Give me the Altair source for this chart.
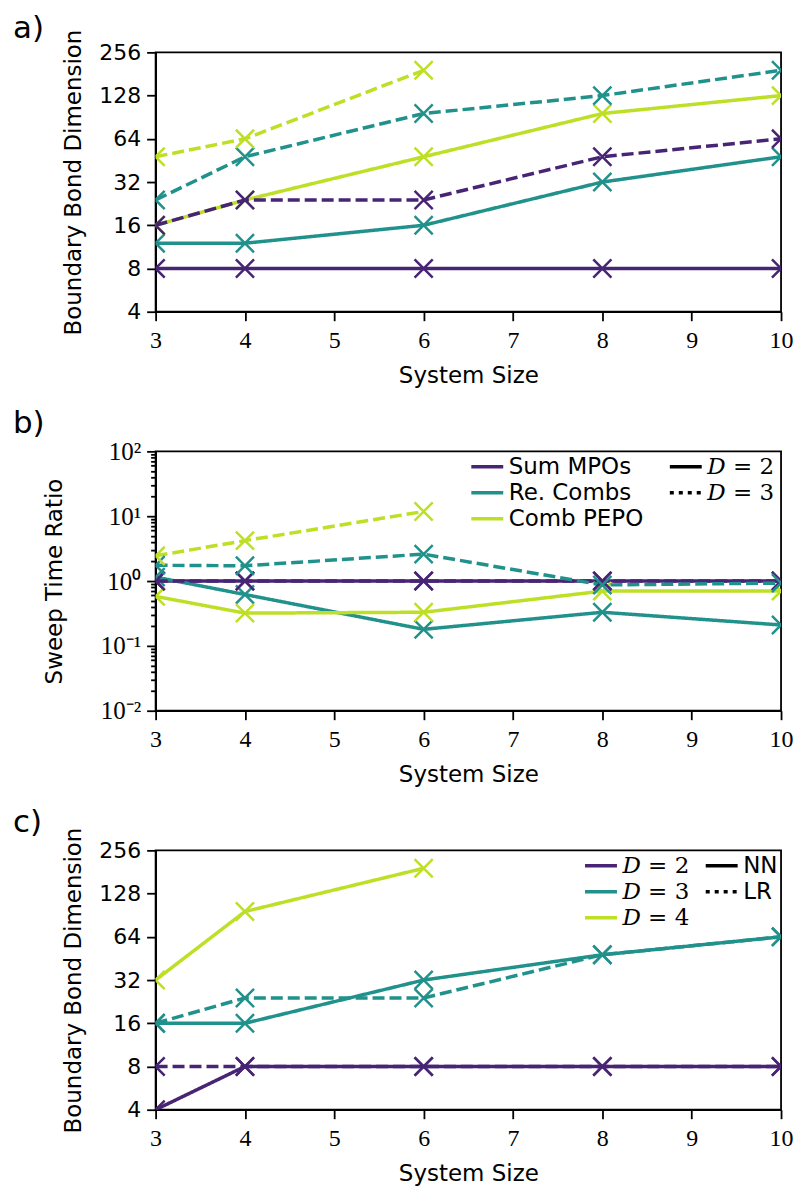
import altair as alt
import pandas as pd

# ---------------- data ----------------
x_full = [3, 4, 6, 8, 10]
x_short = [3, 4, 6]

method_names = ["Sum MPOs", "Re. Combs", "Comb PEPO"]
colors = ["#482475", "#21918c", "#bddf26"]

# panel a: boundary bond dimension vs system size
a_sum_d2 = [8, 8, 8, 8, 8]
a_sum_d3 = [16, 24, 24, 48, 64]
a_re_d2 = [12, 12, 16, 32, 48]
a_re_d3 = [24, 48, 96, 128, 192]
a_comb_d2 = [16, 24, 48, 96, 128]
a_comb_d3 = [48, 64, 192]

# panel b: sweep time ratio vs system size
b_sum_d2 = [1.0, 1.0, 1.0, 1.0, 1.0]
b_sum_d3 = [1.0, 1.0, 1.0, 1.0, 1.0]
b_re_d2 = [1.15, 0.62, 0.18, 0.33, 0.21]
b_re_d3 = [1.75, 1.72, 2.6, 0.87, 0.93]
b_comb_d2 = [0.58, 0.32, 0.33, 0.70, 0.70]
b_comb_d3 = [2.45, 4.2, 11.8]

# panel c: boundary bond dimension, NN vs LR interactions
c_names = ["𝐷 = 2", "𝐷 = 3", "𝐷 = 4"]
c_nn_d2 = [4, 8, 8, 8, 8]
c_lr_d2 = [8, 8, 8, 8, 8]
c_nn_d3 = [16, 16, 32, 48, 64]
c_lr_d3 = [16, 24, 24, 48, 64]
c_nn_d4 = [32, 96, 192]

style_ab = ["𝐷 = 2", "𝐷 = 3"]
style_c = ["NN", "LR"]

x_ticks = [3, 4, 5, 6, 7, 8, 9, 10]
y_ticks_pow2 = [4, 8, 16, 32, 64, 128, 256]
b_major = [0.01, 0.1, 1, 10, 100]
b_major_labels = ["10⁻²", "10⁻¹", "10⁰", "10¹", "10²"]
b_minor = [m * b for b in [0.01, 0.1, 1, 10] for m in range(2, 10)]


def make_df(series_list):
    rows = []
    for name, style, xs, ys in series_list:
        for xv, yv in zip(xs, ys):
            rows.append({"x": xv, "y": yv, "series": name, "style": style})
    return pd.DataFrame(rows)


df_a = make_df([
    ("Sum MPOs", style_ab[0], x_full, a_sum_d2),
    ("Re. Combs", style_ab[0], x_full, a_re_d2),
    ("Comb PEPO", style_ab[0], x_full, a_comb_d2),
    ("Sum MPOs", style_ab[1], x_full, a_sum_d3),
    ("Re. Combs", style_ab[1], x_full, a_re_d3),
    ("Comb PEPO", style_ab[1], x_short, a_comb_d3),
])
df_b = make_df([
    ("Sum MPOs", style_ab[0], x_full, b_sum_d2),
    ("Re. Combs", style_ab[0], x_full, b_re_d2),
    ("Comb PEPO", style_ab[0], x_full, b_comb_d2),
    ("Sum MPOs", style_ab[1], x_full, b_sum_d3),
    ("Re. Combs", style_ab[1], x_full, b_re_d3),
    ("Comb PEPO", style_ab[1], x_short, b_comb_d3),
])
df_c = make_df([
    (c_names[0], style_c[0], x_full, c_nn_d2),
    (c_names[1], style_c[0], x_full, c_nn_d3),
    (c_names[2], style_c[0], x_short, c_nn_d4),
    (c_names[0], style_c[1], x_full, c_lr_d2),
    (c_names[1], style_c[1], x_full, c_lr_d3),
])

# ---------------- styling ----------------
W, H = 627, 260
X_SHAPE = "M-1,-1L1,1M-1,1L1,-1"
LEG_SHAPE = "M-2,0L2,0"
SANS = "DejaVu Sans"
SERIF = "DejaVu Serif"
XSERIF = "Liberation Serif"
LW = 3.5

x_enc = alt.X(
    "x:Q",
    scale=alt.Scale(domain=[3, 10], nice=False, zero=False),
    axis=alt.Axis(values=x_ticks, format="d", title="System Size",
                  labelFont=XSERIF, labelFontSize=24, labelFlush=False,
                  labelPadding=8, titleFont=SANS, titleFontSize=23,
                  titlePadding=12, labelOverlap=False),
)


def y_enc(field, kind):
    if kind == "pow2":
        return alt.Y(
            field + ":Q",
            scale=alt.Scale(type="log", base=2, domain=[4, 256], nice=False),
            axis=alt.Axis(values=y_ticks_pow2, format="d",
                          title="Boundary Bond Dimension",
                          labelFont=SANS, labelFontSize=22, labelPadding=6,
                          titleFont=SANS, titleFontSize=23, titlePadding=13,
                          labelOverlap=False),
        )
    label_map = " : ".join(
        f"datum.value == {v} ? '{lab}'" for v, lab in zip(b_major, b_major_labels)
    ) + " : ''"
    major_test = "indexof([" + ",".join(str(v) for v in b_major) + "], datum.value) >= 0"
    return alt.Y(
        field + ":Q",
        scale=alt.Scale(type="log", base=10, domain=[0.01, 100], nice=False),
        axis=alt.Axis(values=b_major + b_minor, labelExpr=label_map,
                      title="Sweep Time Ratio",
                      tickSize={"condition": {"test": major_test, "value": 9}, "value": 5},
                      labelFont=XSERIF, labelFontSize=25, labelPadding=6,
                      titleFont=SANS, titleFontSize=23, titlePadding=34,
                      labelOverlap=False),
    )


def panel(df, kind, names, styles, label, label_dy, col_leg_x, dash_leg_x,
          col_font, dash_font, low_val, show_legend):
    if show_legend:
        color_legend = alt.Legend(
            title=None, orient="none", legendX=col_leg_x, legendY=4,
            symbolType=LEG_SHAPE, symbolSize=256, symbolStrokeWidth=LW,
            symbolDash=[1, 0], labelFont=col_font, labelFontSize=23,
            labelOffset=10, rowPadding=2, padding=0, labelLimit=400,
        )
    else:
        color_legend = None
    color_enc = alt.Color("series:N", scale=alt.Scale(domain=names, range=colors),
                          legend=color_legend)
    layers = []
    dashes = [[1, 0], [12, 5]]
    for st, dash in zip(styles, dashes):
        base = alt.Chart(df).transform_filter(alt.datum.style == st)
        layers.append(base.mark_line(strokeWidth=LW, strokeDash=dash, clip=True)
                      .encode(x=x_enc, y=y_enc("y", kind), color=color_enc,
                              order="x:Q"))
        layers.append(base.mark_point(shape=X_SHAPE, size=330, strokeWidth=2.5,
                                      opacity=1, clip=True)
                      .encode(x=x_enc, y=y_enc("y", kind), color=color_enc))
    if show_legend:
        # carrier for the line-style legend (drawn outside the clipped area)
        dash_legend = alt.Legend(
            title=None, orient="none", legendX=dash_leg_x, legendY=4,
            symbolType=LEG_SHAPE, symbolSize=256, symbolStrokeWidth=LW,
            symbolStrokeColor="black", labelFont=dash_font, labelFontSize=23,
            labelOffset=10, rowPadding=2, padding=0, labelLimit=400,
        )
        dummy = (alt.Chart(df)
                 .transform_calculate(yy=str(low_val))
                 .mark_line(strokeWidth=LW, color="black", clip=True)
                 .encode(x=x_enc, y=y_enc("yy", kind),
                         strokeDash=alt.StrokeDash("style:N",
                                                   scale=alt.Scale(domain=styles,
                                                                   range=[[1, 0], [4, 5]]),
                                                   legend=dash_legend),
                         detail="series:N"))
        layers.append(dummy)
    return alt.layer(*layers).resolve_scale(color="shared").properties(
        width=W, height=H,
        title=alt.TitleParams(label, anchor="start", frame="group", dx=-143,
                              dy=label_dy, fontSize=31, font=SANS,
                              fontWeight="normal", offset=4, color="black"),
    )


pa = panel(df_a, "pow2", method_names, style_ab, "a)", 20, 321, 520, SANS, SERIF, 0.5, False)
pb = panel(df_b, "log10", method_names, style_ab, "b)", 5, 321, 520, SANS, SERIF, 0.000001, True)
pc = panel(df_c, "pow2", c_names, style_c, "c)", 16, 435, 556, SERIF, SANS, 0.5, True)

chart = (alt.vconcat(pa, pb, pc, spacing=140, bounds="flush")
         .resolve_scale(color="independent", strokeDash="independent")
         .resolve_legend(color="independent", strokeDash="independent")
         .properties(padding={"left": 12, "top": 10, "right": 4, "bottom": 4},
                     background="white")
         .configure_view(stroke="black", strokeWidth=1.8)
         .configure_axis(domainColor="black", domainWidth=1.8, tickColor="black",
                         tickWidth=1.8, tickSize=9, labelColor="black",
                         titleColor="black", grid=False, titleFontWeight="normal")
         .configure_legend(labelColor="black"))

chart.save("out.html", embed_options={"renderer": "svg", "actions": False})
